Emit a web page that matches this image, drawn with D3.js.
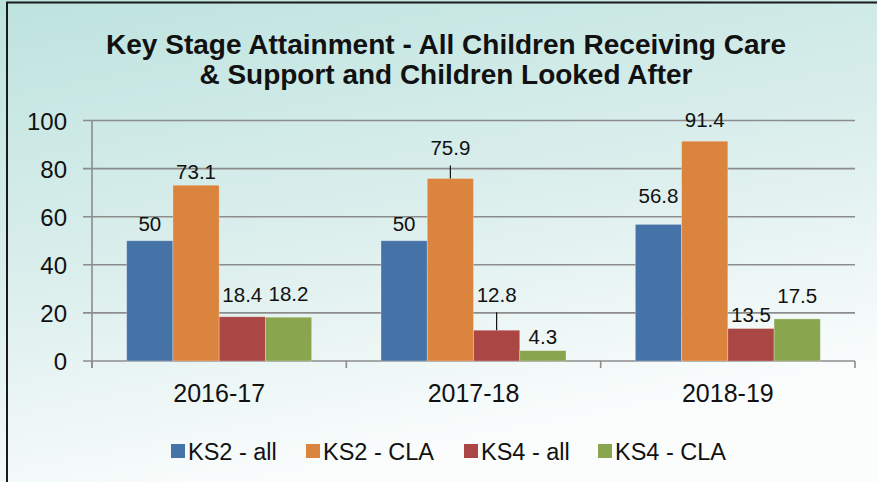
<!DOCTYPE html>
<html><head><meta charset="utf-8">
<script src="https://cdn.jsdelivr.net/npm/d3@7"></script>
<style>html,body{margin:0;padding:0;background:#fff;}svg{display:block;}</style>
</head><body>
<svg id="chart" width="877" height="482"></svg>
<script>
const categories = ["2016-17", "2017-18", "2018-19"];
const seriesNames = ["KS2 - all", "KS2 - CLA", "KS4 - all", "KS4 - CLA"];
const ks2All = [50, 50, 56.8];
const ks2Cla = [73.1, 75.9, 91.4];
const ks4All = [18.4, 12.8, 13.5];
const ks4Cla = [18.2, 4.3, 17.5];
const yTicks = [0, 20, 40, 60, 80, 100];
const titleLines = ["Key Stage Attainment - All Children Receiving Care", "& Support and Children Looked After"];

const seriesValues = [ks2All, ks2Cla, ks4All, ks4Cla];
const colors = ["#4572a7", "#db843d", "#aa4643", "#89a54e"];
// label gap (px between bar top and label baseline) and leader lines, per [series][category]
const labelGap = [[9.5, 10, 21], [6, 23, 13.7], [15, 28, 7], [16, 6.6, 16]];
const leader = {"1-1": true, "2-1": true};

const svg = d3.select("#chart");
const defs = svg.append("defs");
const grad = defs.append("linearGradient").attr("id", "bg")
  .attr("x1", "0").attr("y1", "0").attr("x2", "0.35").attr("y2", "1");
grad.append("stop").attr("offset", "0").attr("stop-color", "#bde3df");
grad.append("stop").attr("offset", "0.55").attr("stop-color", "#dcefed");
grad.append("stop").attr("offset", "1").attr("stop-color", "#fbfdfd");
svg.append("rect").attr("x", 0).attr("y", 0).attr("width", 877).attr("height", 482).attr("fill", "url(#bg)");
svg.append("path").attr("d", "M7,482 V2.5 H877").attr("fill", "none").attr("stroke", "#1a1a1a").attr("stroke-width", 2);

const font = "Liberation Sans, Arial, sans-serif";

// title
const titleW = [680, 493];
titleLines.forEach((t, i) => {
  svg.append("text").attr("x", 446).attr("y", 54 + i * 30).attr("text-anchor", "middle")
    .attr("font-family", font).attr("font-weight", "bold").attr("font-size", 27)
    .attr("textLength", titleW[i]).attr("lengthAdjust", "spacingAndGlyphs")
    .attr("fill", "#111").text(t);
});

const pLeft = 92, pRight = 855, pTop = 120.5, pBottom = 361;
const x0 = d3.scaleBand().domain(categories).range([pLeft, pRight]).paddingInner(0).paddingOuter(0);
const innerPad = 0.75 / 5.5;
const x1 = d3.scaleBand().domain(d3.range(4)).range([x0.bandwidth() * innerPad, x0.bandwidth() * (1 - innerPad)]);
const y = d3.scaleLinear().domain([0, 100]).range([pBottom, pTop]);

// gridlines
svg.append("g").selectAll("line").data(yTicks).join("line")
  .attr("x1", pLeft - 9).attr("x2", pRight).attr("y1", d => y(d)).attr("y2", d => y(d))
  .attr("stroke", "#8c8c8c").attr("stroke-width", 1.6);

// y axis
const yAxis = d3.axisLeft(y).tickValues(yTicks).tickSize(0).tickPadding(25);
const gy = svg.append("g").attr("transform", `translate(${pLeft},0)`).call(yAxis);
gy.select(".domain").remove();
gy.selectAll("text").attr("font-family", font).attr("font-size", 24).attr("fill", "#111")
  .attr("dy", null).attr("dominant-baseline", null).attr("y", 8.5);
svg.append("line").attr("x1", pLeft).attr("x2", pLeft).attr("y1", pTop).attr("y2", pBottom + 7)
  .attr("stroke", "#8c8c8c").attr("stroke-width", 1.6);

// x axis
const xAxis = d3.axisBottom(x0).tickSize(0).tickPadding(0);
const gx = svg.append("g").attr("transform", `translate(0,${pBottom})`).call(xAxis);
gx.select(".domain").remove();
gx.selectAll("text").attr("font-family", font).attr("font-size", 25).attr("fill", "#111")
  .attr("dy", null).attr("y", 40.5);
const bounds = categories.map(c => x0(c)).concat([pRight]);
svg.append("g").selectAll("line").data(bounds).join("line")
  .attr("x1", d => d).attr("x2", d => d).attr("y1", pBottom).attr("y2", pBottom + 7)
  .attr("stroke", "#8c8c8c").attr("stroke-width", 1.6);

// bars
const flat = [];
seriesValues.forEach((vals, s) => vals.forEach((v, c) => flat.push({s, c, v})));
svg.append("g").selectAll("rect").data(flat).join("rect")
  .attr("x", d => x0(categories[d.c]) + x1(d.s))
  .attr("width", x1.bandwidth())
  .attr("y", d => y(d.v)).attr("height", d => y(0) - y(d.v))
  .attr("fill", d => colors[d.s]).attr("stroke", "rgba(255,255,255,0.35)").attr("stroke-width", 0.8);

// labels
const lg = svg.append("g");
flat.forEach(d => {
  const cx = x0(categories[d.c]) + x1(d.s) + x1.bandwidth() / 2;
  const ty = y(d.v) - labelGap[d.s][d.c];
  lg.append("text").attr("x", cx).attr("y", ty).attr("text-anchor", "middle")
    .attr("font-family", font).attr("font-size", 20.5).attr("fill", "#111").text(d.v);
  if (leader[d.s + "-" + d.c]) {
    lg.append("line").attr("x1", cx).attr("x2", cx).attr("y1", ty + 10).attr("y2", y(d.v))
      .attr("stroke", "#111").attr("stroke-width", 1.2);
  }
});

// legend
const legendX = [171, 306, 464, 598];
const leg = svg.append("g");
seriesNames.forEach((n, i) => {
  leg.append("rect").attr("x", legendX[i]).attr("y", 444).attr("width", 14).attr("height", 14).attr("fill", colors[i]);
  leg.append("text").attr("x", legendX[i] + 17).attr("y", 459.5).attr("font-family", font)
    .attr("font-size", 23.5).attr("fill", "#111").text(n);
});
</script>
</body></html>
